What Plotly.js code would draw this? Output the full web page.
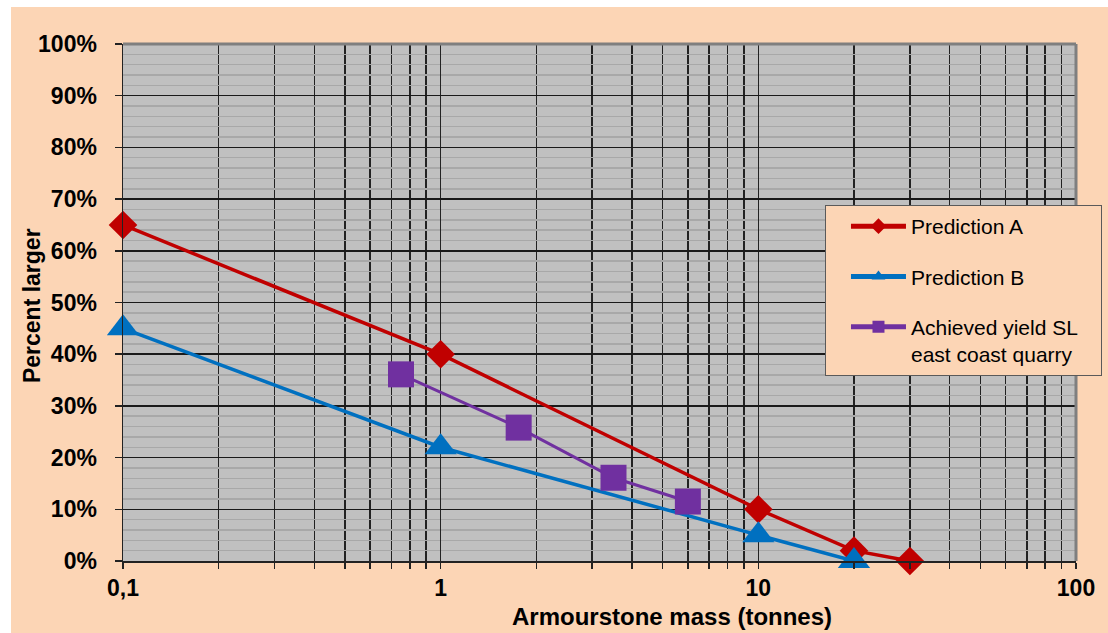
<!DOCTYPE html>
<html>
<head>
<meta charset="utf-8">
<script src="https://cdn.plot.ly/plotly-3.0.1.min.js"></script>
<style>
  html, body { margin: 0; padding: 0; background: #ffffff; width: 1108px; height: 633px; overflow: hidden; }
  #chart { position: absolute; left: 11px; top: 7px; width: 1097px; height: 626px; }
</style>
</head>
<body>
<div id="chart"></div>
<script>
// ---- data ----
const massA = [0.1, 1, 10, 20, 30];
const pctA  = [65, 40, 10, 2, 0];
const massB = [0.1, 1, 10, 20];
const pctB  = [45, 22, 5, 0];
const massC = [0.75, 1.76, 3.5, 6.0];
const pctC  = [36.1, 25.8, 16.1, 11.5];
const seriesNames = ['Prediction A', 'Prediction B', 'Achieved yield SL&nbsp;&nbsp;&nbsp;<br>east coast quarry'];
const xTickVals = [0.1, 1, 10, 100];
const xTickText = ['0,1', '1', '10', '100'];

// minor log positions (2..9 per decade) for grid
const xMinor = [];
[0.1, 1, 10].forEach(d => { for (let k = 2; k <= 9; k++) xMinor.push(+(d * k).toPrecision(3)); });

const PEACH = '#fcd5b5';
const FONT = 'Liberation Sans, Arial, sans-serif';

const traces = [
  { x: massA, y: pctA, name: seriesNames[0], legendgroup: 'a', mode: 'lines+markers', type: 'scatter',
    line: { color: '#c00000', width: 3.5 }, marker: { symbol: 'diamond', size: 22, color: '#c00000' }, cliponaxis: false },
  { x: massB, y: pctB, name: seriesNames[1], legendgroup: 'b', mode: 'lines+markers', type: 'scatter',
    line: { color: '#0070c0', width: 3.5 }, marker: { symbol: 'triangle-up', size: 28, color: '#0070c0' }, cliponaxis: false },
  { x: massC, y: pctC, name: seriesNames[2], legendgroup: 'c', mode: 'lines+markers', type: 'scatter',
    line: { color: '#7030a0', width: 3 }, marker: { symbol: 'square', size: 26, color: '#7030a0' }, cliponaxis: false }
];

const layout = {
  width: 1097, height: 626,
  margin: { l: 112, r: 32, t: 37, b: 72, autoexpand: false },
  paper_bgcolor: PEACH,
  plot_bgcolor: '#c0c0c0',
  font: { family: FONT, color: '#000' },
  showlegend: true,
  legend: {
    x: 0.7366, y: 0.6886, xanchor: 'left', yanchor: 'top',
    bgcolor: PEACH, bordercolor: '#5a5a5a', borderwidth: 1,
    indentation: 20,
    font: { family: FONT, size: 21, color: '#000' },
    traceorder: 'grouped', tracegroupgap: 20, itemwidth: 55, valign: 'top', itemsizing: 'constant'
  },
  xaxis: {
    type: 'log', range: [-1, 2],
    tickmode: 'array', tickvals: xTickVals, ticktext: xTickText,
    ticks: 'outside', ticklen: 6, tickwidth: 1.5, tickcolor: '#222',
    showgrid: true, gridcolor: '#222', gridwidth: 1.5,
    showline: true, linecolor: '#222', linewidth: 1.5,
    zeroline: false,
    tickfont: { family: FONT, size: 23, color: '#000', weight: 'bold' },
    ticklabelstandoff: 0,
    minor: { tickmode: 'array', tickvals: xMinor, showgrid: true, gridcolor: '#222', gridwidth: 1.5,
             ticks: 'outside', ticklen: 6, tickwidth: 1.5, tickcolor: '#222' }
  },
  yaxis: {
    range: [0, 100], dtick: 10, ticksuffix: '%',
    ticks: 'outside', ticklen: 7, tickwidth: 1.5, tickcolor: '#222',
    showgrid: true, gridcolor: '#1a1a1a', gridwidth: 1.5,
    showline: true, linecolor: '#222', linewidth: 1.5,
    zeroline: false,
    tickfont: { family: FONT, size: 23, color: '#000', weight: 'bold' },
    ticklabelstandoff: 13,
    minor: { dtick: 2, showgrid: true, gridcolor: '#a8a8a8', gridwidth: 1.5, ticks: '' }
  },
  shapes: [
    { type: 'line', xref: 'paper', yref: 'paper', x0: 0, x1: 1, y0: 1, y1: 1, line: { color: '#7f7f7f', width: 3 }, layer: 'above' },
    { type: 'line', xref: 'paper', yref: 'paper', x0: 1, x1: 1, y0: 0, y1: 1, line: { color: '#7f7f7f', width: 3 }, layer: 'above' }
  ],
  annotations: [
    { text: 'Armourstone mass (tonnes)', xref: 'paper', yref: 'paper', x: 0.576, y: -0.1083,
      xanchor: 'center', yanchor: 'middle', showarrow: false,
      font: { family: FONT, size: 24, color: '#000', weight: 'bold' } },
    { text: 'Percent larger', xref: 'paper', yref: 'paper', x: -0.0955, y: 0.495, textangle: -90,
      xanchor: 'center', yanchor: 'middle', showarrow: false,
      font: { family: FONT, size: 23, color: '#000', weight: 'bold' } }
  ]
};

Plotly.newPlot('chart', traces, layout, { displayModeBar: false, staticPlot: true });
</script>
</body>
</html>
